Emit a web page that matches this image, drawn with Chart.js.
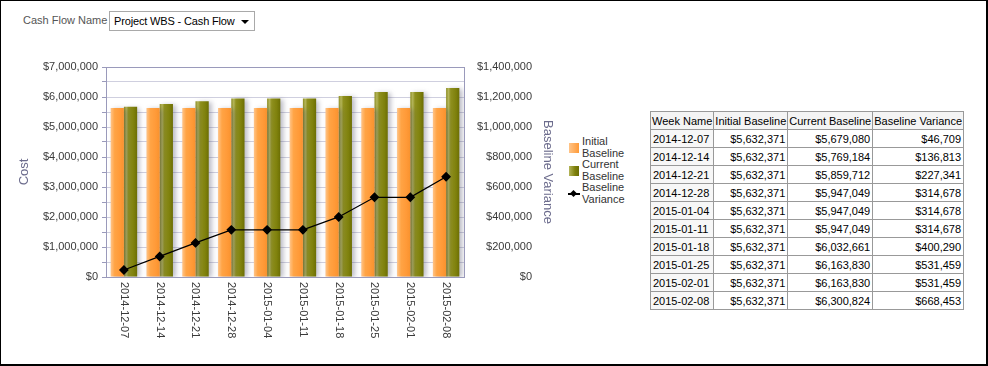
<!DOCTYPE html>
<html>
<head>
<meta charset="utf-8">
<script src="https://cdn.jsdelivr.net/npm/chart.js@4.4.0/dist/chart.umd.min.js"></script>
<style>
  html, body { margin: 0; padding: 0; background: #fff; }
  #frame { position: absolute; left: 0; top: 0; width: 985px; height: 363px; border: 1px solid #000; border-right-width: 2px; border-bottom-width: 2px; background: #fff; overflow: hidden; }
  #filter { position: absolute; left: 22px; top: 11px; font-family: "Liberation Sans", Arial, sans-serif; font-size: 11px; color: #555; }
  #filter .lab { position: absolute; left: 0; top: 2px; white-space: nowrap; }
  #filter .sel { position: absolute; left: 86px; top: -1px; width: 140px; height: 18px; border: 1px solid #a9a9a9; background: #fff; color: #000; font-size: 11px; letter-spacing: -0.15px; line-height: 18px; padding-left: 4px; box-sizing: content-box; white-space: nowrap; }
  #filter .arrow { position: absolute; top: 8px; width: 0; height: 0; border-left: 4px solid transparent; border-right: 4px solid transparent; border-top: 4px solid #000; }
  #chartBox { position: absolute; left: 0; top: 40px; width: 565px; height: 320px; }
  #legend { position: absolute; left: 567px; top: 135px; font-family: "Liberation Sans", Arial, sans-serif; font-size: 11px; color: #333; line-height: 11.5px; }
  #legend .item { position: relative; padding-left: 14px; width: 50px; margin-bottom: 0px; }
  #legend .sw { position: absolute; left: 1px; top: 7px; width: 10px; height: 10px; }
  #legend .ln { position: absolute; left: 0px; top: 11px; width: 12px; height: 2px; background: #000; }
  #legend .dm { position: absolute; left: 3px; top: 9px; width: 5px; height: 5px; background: #000; transform: rotate(45deg); }
  table { position: absolute; left: 649px; top: 110px; border-collapse: collapse; table-layout: fixed; font-family: "Liberation Sans", Arial, sans-serif; font-size: 11px; color: #000; }
  td, th { border: 1px solid #999; height: 17px; padding: 0 2px; white-space: nowrap; font-weight: normal; overflow: hidden; }
  th { background: #f4f4f4; text-align: left; padding: 0 1px; }
  td.num { text-align: right; }
  td.wk { background: #f7f7f7; }
</style>
</head>
<body>
<div id="frame">
  <div id="filter"><span class="lab">Cash Flow Name</span><div class="sel">Project WBS - Cash Flow<div class="arrow" style="left:131px"></div></div></div>
  <div id="chartBox"><canvas id="c" width="565" height="320"></canvas></div>
  <div id="legend"></div>
  <table id="tbl"><colgroup><col style="width:62px"><col style="width:72px"><col style="width:82px"><col style="width:85px"></colgroup><tbody id="tb"></tbody></table>
</div>
<script>
// ---- data ----
const weeks = ['2014-12-07','2014-12-14','2014-12-21','2014-12-28','2015-01-04','2015-01-11','2015-01-18','2015-01-25','2015-02-01','2015-02-08'];
const initialBaseline = [5632371,5632371,5632371,5632371,5632371,5632371,5632371,5632371,5632371,5632371];
const currentBaseline = [5679080,5769184,5859712,5947049,5947049,5947049,6032661,6163830,6163830,6300824];
const baselineVariance = [46709,136813,227341,314678,314678,314678,400290,531459,531459,668453];
const seriesNames = ['Initial Baseline','Current Baseline','Baseline Variance'];
const tableHeaders = ['Week Name','Initial Baseline','Current Baseline','Baseline Variance'];

const fmt = v => '$' + Math.round(v).toLocaleString('en-US');

const CAT_PCT = 0.74, BAR_PCT = 1.0;

function barGradient(stops, side) {
  return function(ctx) {
    const chart = ctx.chart;
    const area = chart.chartArea;
    const xs = chart.scales.x;
    if (!area || !xs) return stops[stops.length - 1][1];
    const cw = (area.right - area.left) / weeks.length;
    const bw = cw * CAT_PCT * BAR_PCT / 2;
    const cx = xs.getPixelForValue(ctx.dataIndex);
    const x0 = side === 0 ? cx - bw : cx;
    const g = chart.ctx.createLinearGradient(x0, 0, x0 + bw, 0);
    stops.forEach(s => g.addColorStop(s[0], s[1]));
    return g;
  };
}
const orangeStops = [[0,'#ffc488'],[0.3,'#ffa445'],[0.7,'#ff9a38'],[1,'#f8922e']];
const greenStops = [[0,'#8c8d22'],[0.18,'#b4b55a'],[0.35,'#8f901e'],[0.75,'#7e800c'],[1,'#6c6e04']];

const shadowPlugin = {
  id: 'barShadow',
  beforeDatasetDraw(chart, args) {
    if (args.meta.type === 'bar') {
      const c = chart.ctx;
      c.save();
      c.shadowColor = 'rgba(60,60,90,0.35)';
      c.shadowBlur = 5;
      c.shadowOffsetX = 3;
      c.shadowOffsetY = 1;
    }
  },
  afterDatasetDraw(chart, args) {
    if (args.meta.type === 'bar') chart.ctx.restore();
  }
};

const framePlugin = {
  id: 'frameAndLabels',
  beforeDatasetsDraw(chart) {
    const c = chart.ctx, a = chart.chartArea;
    c.save();
    c.strokeStyle = '#9a9abb';
    c.lineWidth = 1;
    c.strokeRect(Math.round(a.left) + 0.5, Math.round(a.top) + 0.5, Math.round(a.right - a.left), Math.round(a.bottom - a.top));
    c.restore();
  },
  afterDraw(chart) {
    const c = chart.ctx, a = chart.chartArea, xs = chart.scales.x;
    c.save();
    c.fillStyle = '#3a3a3a';
    c.font = '11px "Liberation Sans", Arial, sans-serif';
    c.textAlign = 'left';
    c.textBaseline = 'middle';
    weeks.forEach((w, i) => {
      const x = xs.getPixelForValue(i);
      c.save();
      c.translate(x, a.bottom + 5);
      c.rotate(Math.PI / 2);
      c.fillText(w, 0, 0);
      c.restore();
    });
    c.restore();
  }
};

const chart = new Chart(document.getElementById('c'), {
  data: {
    labels: weeks,
    datasets: [
      { type: 'bar', label: seriesNames[0], data: initialBaseline, yAxisID: 'y', backgroundColor: barGradient(orangeStops, 0), borderWidth: 0, categoryPercentage: CAT_PCT, barPercentage: BAR_PCT, order: 1 },
      { type: 'bar', label: seriesNames[1], data: currentBaseline, yAxisID: 'y', backgroundColor: barGradient(greenStops, 1), borderWidth: 0, categoryPercentage: CAT_PCT, barPercentage: BAR_PCT, order: 2 },
      { type: 'line', label: seriesNames[2], data: baselineVariance, yAxisID: 'y2', borderColor: '#000', backgroundColor: '#000', borderWidth: 1.3, pointStyle: 'rectRot', pointRadius: 4, pointBackgroundColor: '#000', pointBorderColor: '#000', tension: 0, order: 0 }
    ]
  },
  options: {
    responsive: false,
    animation: false,
    events: [],
    layout: { padding: { top: 26, left: 0, right: 34, bottom: 0 } },
    plugins: { legend: { display: false }, tooltip: { enabled: false } },
    scales: {
      x: {
        type: 'category',
        offset: true,
        grid: { display: false },
        border: { display: false },
        ticks: { display: false },
        afterFit(s) { s.height = 84; }
      },
      y: {
        position: 'left',
        min: 0, max: 7000000,
        ticks: {
          stepSize: 500000,
          autoSkip: false,
          color: '#3a3a3a',
          font: { family: '"Liberation Sans", Arial, sans-serif', size: 11 },
          padding: 4,
          callback: v => (v % 1000000 === 0) ? fmt(v) : ''
        },
        grid: { color: '#cfcfdf', lineWidth: 1, tickLength: 4, tickColor: '#9a9abb' },
        border: { display: false },
        title: { display: true, text: 'Cost', color: '#6b6b8c', font: { family: '"Liberation Sans", Arial, sans-serif', size: 13 }, padding: { top: 16, bottom: 0 } },
        afterFit(s) { s.width = 105; }
      },
      y2: {
        position: 'right',
        min: 0, max: 1400000,
        ticks: {
          stepSize: 200000,
          color: '#3a3a3a',
          crossAlign: 'far',
          font: { family: '"Liberation Sans", Arial, sans-serif', size: 11 },
          padding: 13,
          callback: v => fmt(v)
        },
        grid: { display: false, drawOnChartArea: false },
        border: { display: false },
        title: { display: true, text: 'Baseline Variance', color: '#6b6b8c', font: { family: '"Liberation Sans", Arial, sans-serif', size: 13 }, padding: { top: -23, bottom: 0 } },
        afterFit(s) { s.width = 68; }
      }
    }
  },
  plugins: [shadowPlugin, framePlugin]
});

// ---- legend from datasets ----
const legend = document.getElementById('legend');
[0, 1, 2].forEach(di => {
  const ds = chart.data.datasets[di];
  const item = document.createElement('div');
  item.className = 'item';
  if (ds.type === 'bar') {
    const sw = document.createElement('div');
    sw.className = 'sw';
    sw.style.background = di === 0 ? 'linear-gradient(90deg,#ffc488,#ff9a38)' : 'linear-gradient(90deg,#b4b55a,#7e800c 60%,#6c6e04)';
    item.appendChild(sw);
  } else {
    const ln = document.createElement('div'); ln.className = 'ln'; item.appendChild(ln);
    const dm = document.createElement('div'); dm.className = 'dm'; item.appendChild(dm);
  }
  item.appendChild(document.createTextNode(ds.label));
  legend.appendChild(item);
});

// ---- table ----
const tb = document.getElementById('tb');
let html = '<tr>' + tableHeaders.map(h => '<th>' + h + '</th>').join('') + '</tr>';
weeks.forEach((w, i) => {
  html += '<tr><td class="wk">' + w + '</td><td class="num">' + fmt(initialBaseline[i]) + '</td><td class="num">' + fmt(currentBaseline[i]) + '</td><td class="num">' + fmt(baselineVariance[i]) + '</td></tr>';
});
tb.innerHTML = html;
</script>
</body>
</html>
